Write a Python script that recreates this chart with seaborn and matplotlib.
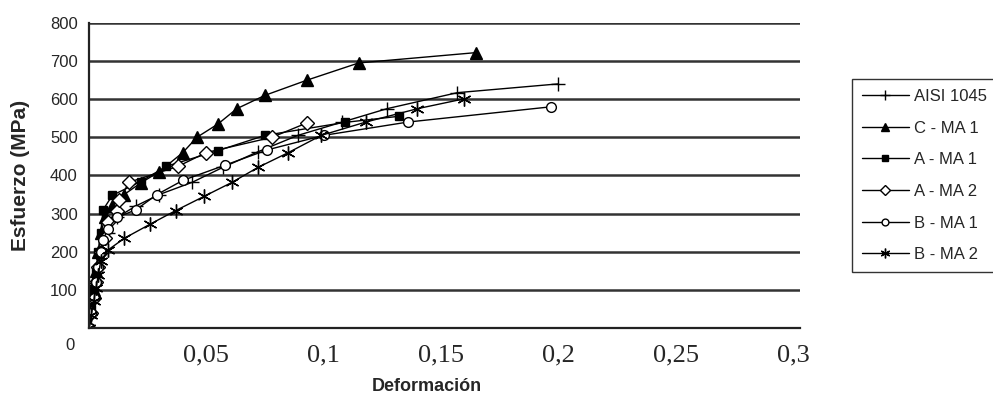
import numpy as np
import pandas as pd
import seaborn as sns
import matplotlib
matplotlib.use("Agg")
import matplotlib.pyplot as plt

# strain / stress
aisi_x = [0, 0.001, 0.002, 0.003, 0.004, 0.005, 0.008, 0.012, 0.020, 0.030, 0.044, 0.057, 0.072, 0.089, 0.108, 0.127, 0.157, 0.200]
aisi_y = [0, 40, 80, 120, 160, 200, 250, 290, 320, 350, 382, 421, 462, 505, 540, 575, 617, 640]

cma1_x = [0, 0.001, 0.002, 0.003, 0.004, 0.005, 0.007, 0.010, 0.015, 0.022, 0.030, 0.040, 0.046, 0.055, 0.063, 0.075, 0.093, 0.115, 0.165]
cma1_y = [0, 50, 100, 150, 200, 250, 290, 320, 350, 380, 410, 460, 500, 535, 575, 610, 650, 695, 722]

ama1_x = [0, 0.001, 0.002, 0.003, 0.004, 0.005, 0.006, 0.010, 0.022, 0.033, 0.055, 0.075, 0.109, 0.132]
ama1_y = [0, 50, 100, 150, 200, 250, 310, 348, 384, 424, 465, 505, 539, 555]

ama2_x = [0, 0.001, 0.002, 0.003, 0.004, 0.005, 0.007, 0.008, 0.012, 0.013, 0.017, 0.038, 0.050, 0.078, 0.093]
ama2_y = [0, 40, 80, 120, 160, 200, 235, 277, 308, 335, 382, 424, 460, 500, 538]

bma1_x = [0, 0.001, 0.002, 0.003, 0.004, 0.005, 0.006, 0.008, 0.012, 0.020, 0.029, 0.040, 0.058, 0.076, 0.100, 0.136, 0.197]
bma1_y = [0, 40, 80, 120, 160, 200, 230, 260, 290, 310, 350, 387, 427, 467, 505, 540, 580]

bma2_x = [0, 0.001, 0.002, 0.003, 0.004, 0.005, 0.008, 0.015, 0.026, 0.037, 0.049, 0.061, 0.072, 0.085, 0.099, 0.118, 0.140, 0.160]
bma2_y = [0, 35, 70, 105, 140, 175, 204, 235, 272, 308, 345, 382, 421, 460, 505, 540, 575, 601]

series = [
    ("AISI 1045", aisi_x, aisi_y, "+", 10, "black"),
    ("C - MA 1", cma1_x, cma1_y, "^", 8, "black"),
    ("A - MA 1", ama1_x, ama1_y, "s", 6, "black"),
    ("A - MA 2", ama2_x, ama2_y, "D", 7, "white"),
    ("B - MA 1", bma1_x, bma1_y, "o", 7, "white"),
    ("B - MA 2", bma2_x, bma2_y, (6, 2, 0), 10, "black"),
]

x_ticks = [0.05, 0.1, 0.15, 0.2, 0.25, 0.3]
x_labels = ["0,05", "0,1", "0,15", "0,2", "0,25", "0,3"]
y_ticks = [100, 200, 300, 400, 500, 600, 700, 800]

sns.set_style("white")
plt.rcParams["font.family"] = ["Liberation Sans", "DejaVu Sans"]

fig = plt.figure(figsize=(9.93, 4.01), dpi=100)
ax = fig.add_axes([0.0896, 0.182, 0.716, 0.761])

for name, xs, ys, mk, ms, fc in series:
    df = pd.DataFrame({"x": xs, "y": ys})
    sns.lineplot(data=df, x="x", y="y", ax=ax, sort=False, color="black",
                 linewidth=1.0, marker=mk, markersize=ms, markerfacecolor=fc,
                 markeredgecolor="black", markeredgewidth=1.0, label=name)

ax.set_xlim(0, 0.303)
ax.set_ylim(0, 800)
ax.set_yticks(y_ticks)
ax.set_yticklabels([str(v) for v in y_ticks], fontsize=12)
ax.set_xticks(x_ticks)
ax.set_xticklabels(x_labels, fontsize=19, family="Liberation Serif")
ax.yaxis.grid(True, color="#333333", linewidth=1.8)
ax.set_axisbelow(True)
ax.tick_params(axis="both", direction="out", length=5, width=1.2, color="#333333", pad=3)
ax.tick_params(axis="x", pad=7)

for side in ["top", "right"]:
    ax.spines[side].set_visible(False)
for side in ["left", "bottom"]:
    ax.spines[side].set_color("#222222")
    ax.spines[side].set_linewidth(1.6)

ax.text(-0.008, -45, "0", fontsize=12, ha="center", va="center", clip_on=False)

ax.set_xlabel("Deformación", fontsize=13, fontweight="bold")
ax.xaxis.set_label_coords(0.475, -0.165)
ax.set_ylabel("Esfuerzo (MPa)", fontsize=15, fontweight="bold")
ax.yaxis.set_label_coords(-0.083, 0.5)

ax.get_legend().remove()
handles, labels = ax.get_legend_handles_labels()
leg = fig.legend(handles, labels, loc="upper left", bbox_to_anchor=(0.858, 0.803),
                 frameon=True, fancybox=False, fontsize=12, handlelength=2.8,
                 markerscale=0.7, borderpad=0.6, labelspacing=1.0,
                 handletextpad=0.3, borderaxespad=0)
leg.get_frame().set_edgecolor("black")
leg.get_frame().set_linewidth(1.0)

fig.savefig("out.png", dpi=100)
